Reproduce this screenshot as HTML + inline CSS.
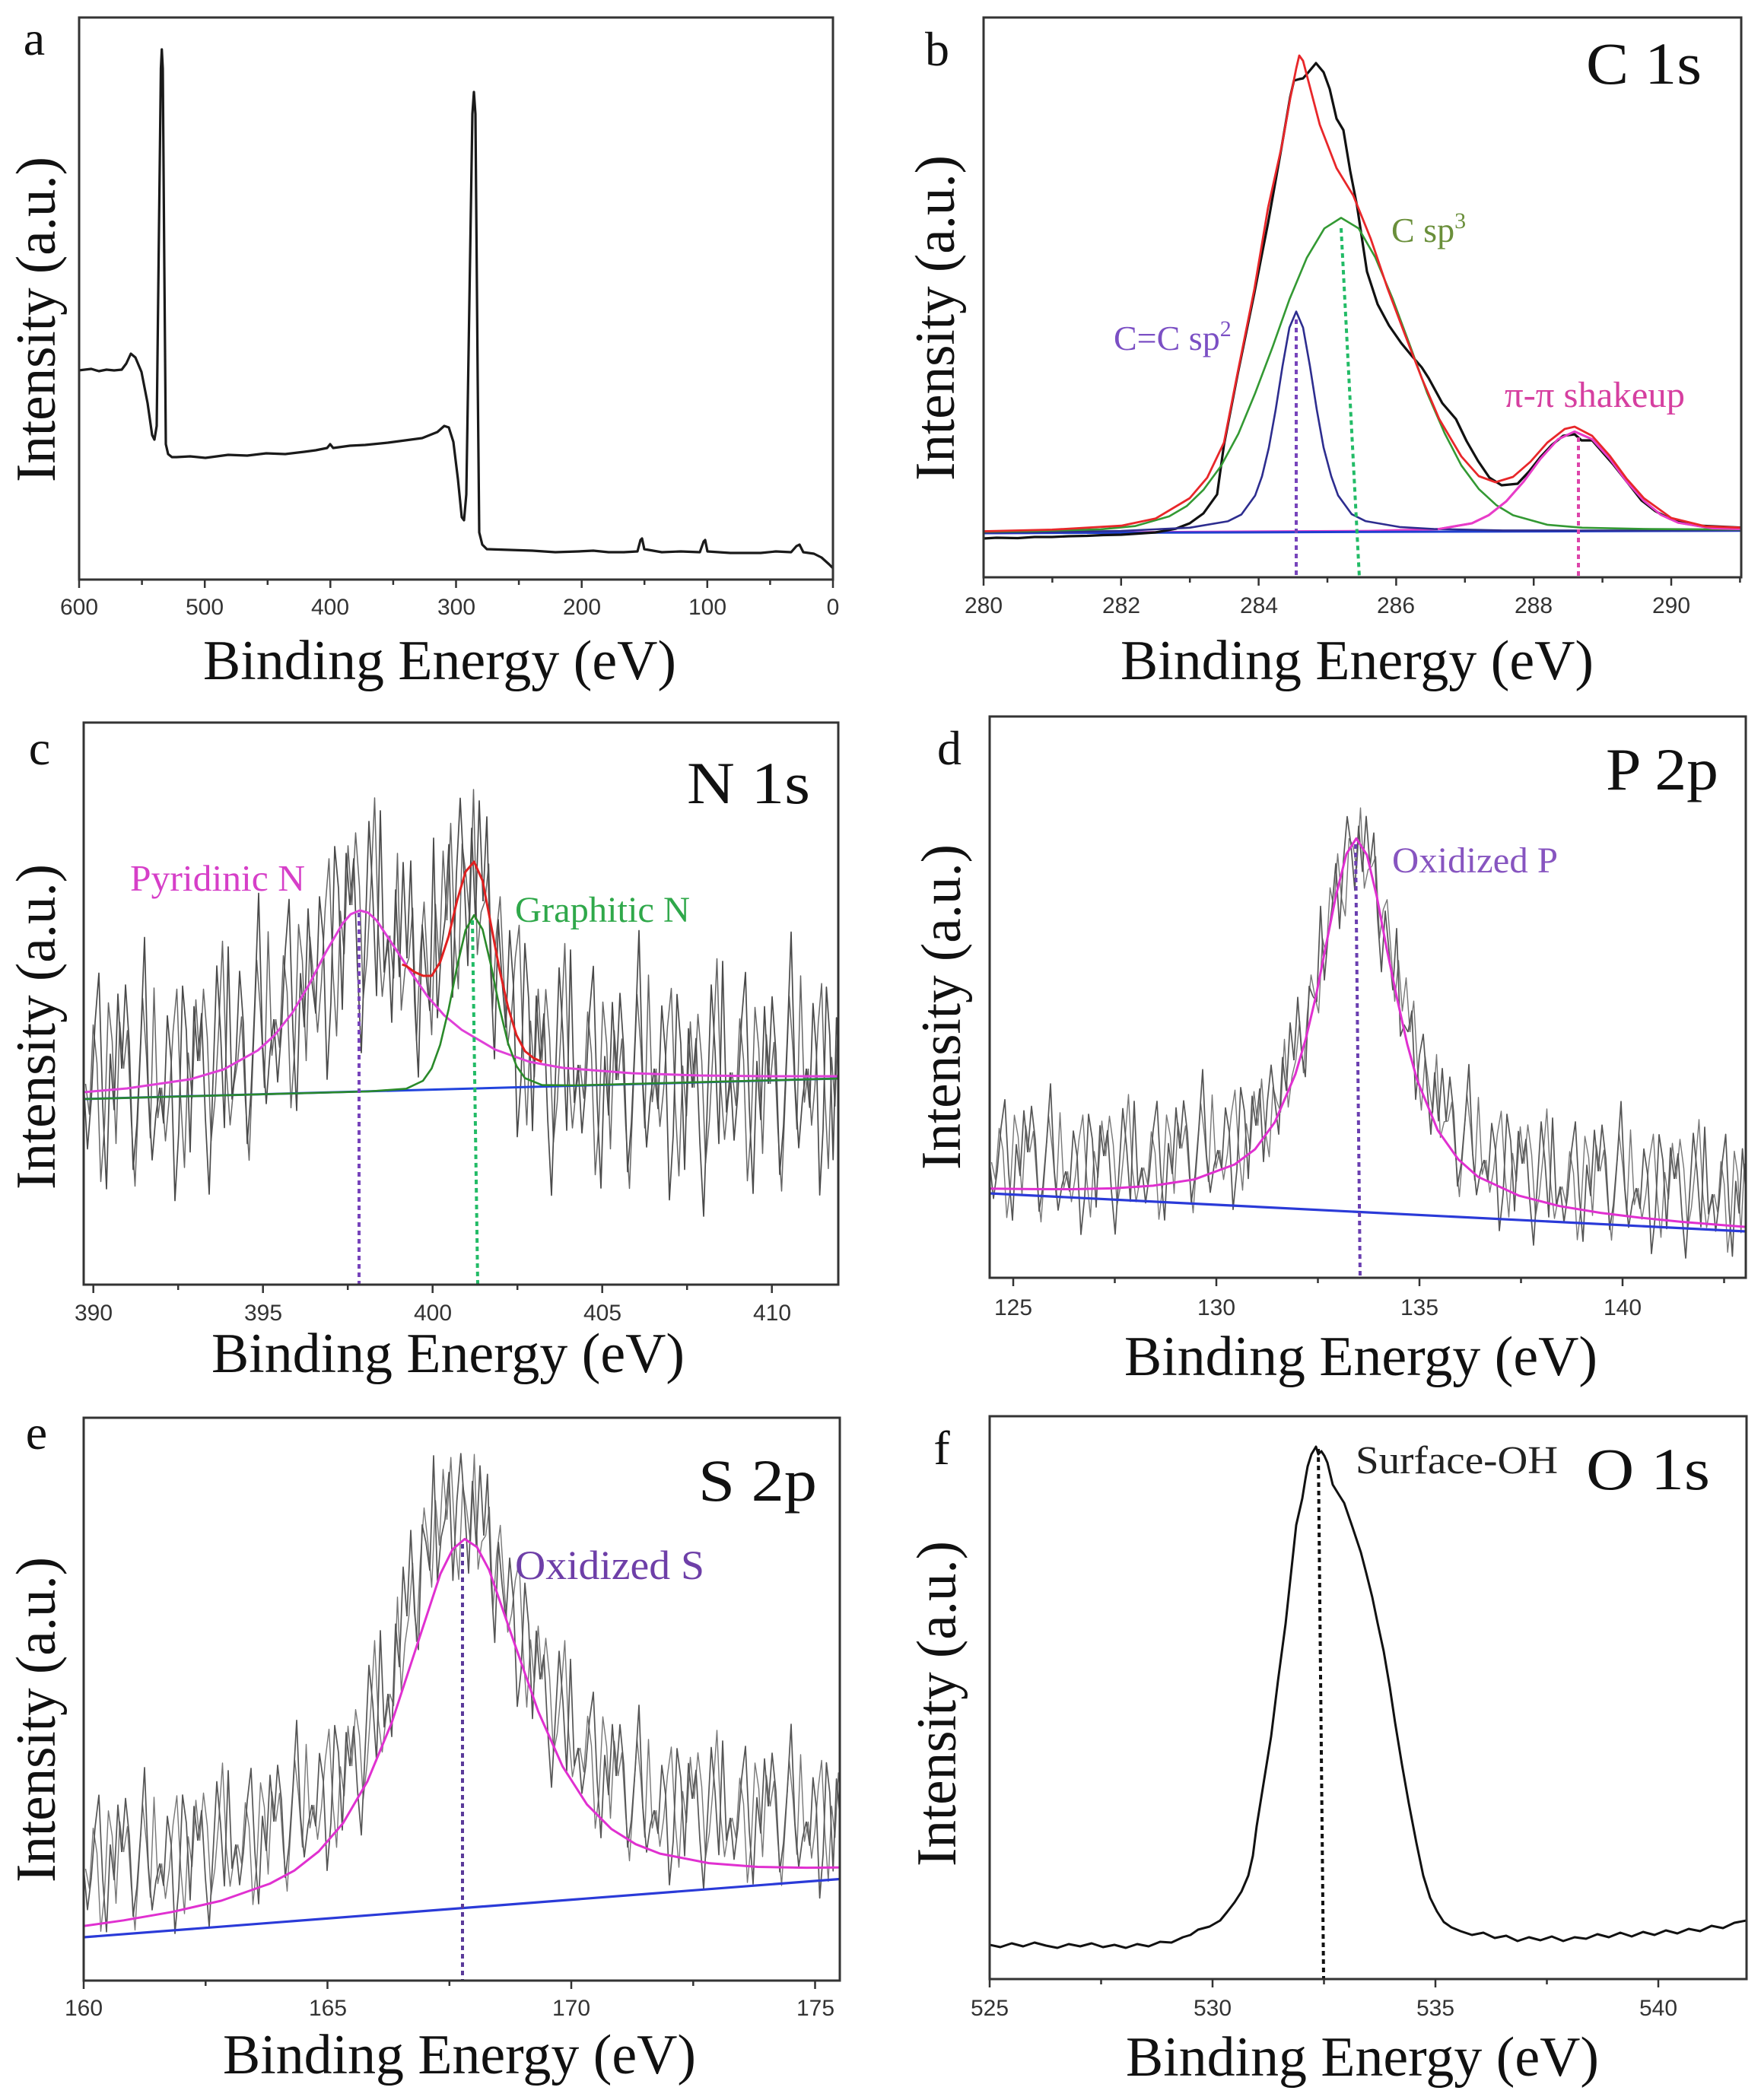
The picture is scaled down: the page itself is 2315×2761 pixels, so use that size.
<!DOCTYPE html>
<html><head><meta charset="utf-8">
<style>
html,body{margin:0;padding:0;background:#fff;}
svg{display:block;}
.t{font-family:"Liberation Sans",Arial,sans-serif;font-size:30px;fill:#333;text-anchor:middle;}
.s{font-family:"Liberation Serif","Times New Roman",serif;fill:#111;}
</style></head><body>
<svg width="2315" height="2761" viewBox="0 0 2315 2761" xmlns="http://www.w3.org/2000/svg">
<rect width="2315" height="2761" fill="#fff"/>
<defs>
<clipPath id="ca"><rect x="104" y="23" width="991" height="739"/></clipPath>
<clipPath id="cb"><rect x="1293" y="23" width="996" height="736"/></clipPath>
<clipPath id="cc"><rect x="110" y="950" width="992" height="739"/></clipPath>
<clipPath id="cd"><rect x="1301" y="942" width="994" height="738"/></clipPath>
<clipPath id="ce"><rect x="110" y="1864" width="994" height="740"/></clipPath>
<clipPath id="cf"><rect x="1301" y="1862" width="995" height="740"/></clipPath>
<path id="w1" vector-effect="non-scaling-stroke" d="M0 0L5 70L10 20L15 -60L20 -110L25 30L30 120L35 -20L40 40L45 -80L50 0"/>
<path id="w2" vector-effect="non-scaling-stroke" d="M0 0L5 -90L10 -30L15 100L20 50L25 -40L30 -150L35 10L40 80L45 30L50 0"/>
<path id="w3" vector-effect="non-scaling-stroke" d="M0 0L5 40L10 -70L15 -20L20 130L25 60L30 -90L35 -40L40 90L45 -60L50 0"/>
<path id="w4" vector-effect="non-scaling-stroke" d="M0 0L5 -50L10 60L15 140L20 20L25 -100L30 -30L35 70L40 -120L45 40L50 0"/>
<path id="s1" vector-effect="non-scaling-stroke" d="M0 0L10 90L20 -60L30 30L40 -100L50 0"/>
<path id="s2" vector-effect="non-scaling-stroke" d="M0 0L10 -110L20 40L30 120L40 -50L50 0"/>
<path id="s3" vector-effect="non-scaling-stroke" d="M0 0L10 50L20 -120L30 80L40 20L50 0"/>
<path id="s4" vector-effect="non-scaling-stroke" d="M0 0L10 -70L20 100L30 -20L40 -90L50 0"/>
</defs>

<!-- ===== panel a ===== -->
<g clip-path="url(#ca)" fill="none" stroke-linejoin="round">
<path stroke="#1a1a1a" stroke-width="3.2" d="M103 487L120 485L130 488L140 486L150 487L160 486L166 478L172 465L178 470L186 489L194 530L200 572L203 578L206 560L209 300L211.5 90L212.7 65L214 90L216 350L218 584L221 597L226 601L232 601L250 600L270 602L300 598L325 599L350 596L375 597L400 594L415 592L430 589L434 584L438 589L460 586L480 585L510 582L540 578L555 576L565 572L575 568L584 560L590 562L596 581L602 630L607 680L610 684L613 650L617 400L621 150L623 121L625 150L628 500L630 700L634 716L640 722L670 723L700 724L730 726L760 725L780 724L800 726L820 726L838 725L842 710L844 708L847 722L870 726L895 725L920 726L925 712L927 710L930 725L960 727L1000 727L1020 725L1040 726L1047 718L1051 716L1056 726L1070 728L1080 733L1090 742L1096 748"/>
</g>

<!-- ===== panel b ===== -->
<g clip-path="url(#cb)" fill="none" stroke-linejoin="round">
<path stroke="#e83cc8" stroke-width="3" d="M1293 700.9L1799 698.1L1890 695.8L1935 688L1957 677.4L1980 659.2L2003 633.1L2025 603.2L2048 577.7L2070 567.4L2093 577.5L2116 602.9L2138 632.7L2161 658.6L2183 676.6L2206 687.1L2251 694.6L2296 695.8"/>
<path stroke="#2040d0" stroke-width="3" d="M1293 701L2296 697.7"/>
<path stroke="#111" stroke-width="3.2" d="M1293 708L1310 707L1338 707.5L1360 706L1383 706L1405 705L1429 704.5L1450 703.5L1474 703L1497 701.5L1519 700L1546 695L1564 688L1582 675L1600 650L1609 585L1627 492L1649 385L1667 293L1685 192L1696 128L1701 106L1708 104L1713 103L1720 95L1730 83L1740 95L1748 117L1757 156L1766 171L1775 225L1784 271L1797 357L1811 400L1826 428L1842 451L1856 468L1869 483L1878 497L1896 530L1914 551L1928 580L1943 606L1958 628L1974 638L1995 636L2010 620L2025 601L2040 585L2055 573L2070 571L2079 579L2093 579L2107 595L2121 611L2140 635L2158 658L2176 672L2195 682L2231 691L2296 694"/>
<path stroke="#2d2d8f" stroke-width="2.6" d="M1293 700.5L1383 699.5L1474 698L1564 693.8L1614 685.4L1632 676.4L1650 651.5L1659 626.3L1668 588.7L1677 538.6L1686 481.3L1695 430.9L1704 409.6L1713 430.7L1722 481.1L1731 538.4L1740 588.5L1750 626.1L1759 651.3L1777 676.1L1795 685.1L1840 692.9L1885 695.5L1976 697.4L2107 697.5L2296 697.2"/>
<path stroke="#339933" stroke-width="2.6" d="M1293 699.1L1356 698.3L1447 695.9L1492 691.7L1537 678.9L1560 665.4L1582 644.1L1605 612.9L1628 570.3L1650 517L1673 456.1L1695 393.9L1718 338.8L1741 300.3L1763 286.4L1786 300.2L1808 338.5L1831 393.4L1854 455.5L1876 516.3L1899 569.4L1921 611.8L1944 642.9L1967 664.1L1989 677.4L2034 689.9L2080 693.8L2170 695.6L2296 696.2"/>
<path stroke="#e83cc8" stroke-width="2.8" d="M1890 695.8L1935 688L1957 677.4L1980 659.2L2003 633.1L2025 603.2L2048 577.7L2070 567.4L2093 577.5L2116 602.9L2138 632.7L2161 658.6L2183 676.6L2206 687.1L2251 694.6L2296 695.8"/>
<path stroke="#e8272a" stroke-width="2.8" d="M1293 698.5L1383 696.4L1474 691.2L1519 681.8L1564 655L1587 628L1609 582L1627 490L1649 380L1667 273L1685 192L1696 130L1704 90L1708 73L1713 80L1735 164L1757 221L1779 257L1802 314L1824 379L1847 440L1869 497L1892 551L1921 600L1944 626L1966 634L1989 627L2012 607L2034 582L2057 564L2070 561L2093 573L2116 599L2138 629L2161 655L2197 681L2242 692L2296 694"/>
<path stroke="#7744bb" stroke-width="4" stroke-dasharray="6 5" d="M1704 420L1704 759"/>
<path stroke="#22bb66" stroke-width="4" stroke-dasharray="6 5" d="M1763 300L1787 759"/>
<path stroke="#dd44aa" stroke-width="4" stroke-dasharray="6 5" d="M2075 575L2075 759"/>
</g>

<!-- ===== panel c ===== -->
<g clip-path="url(#cc)" fill="none" stroke-linejoin="round">
<g stroke="#666" stroke-width="1.5" transform="translate(2.5,0)">
<use href="#w3" transform="matrix(1 -0.4 0 1.05 110 1425)"/>
<use href="#w4" transform="matrix(1 0.5 0 1.05 160 1405)"/>
<use href="#w1" transform="matrix(1 -0.7 0 1.05 210 1430)"/>
<use href="#w2" transform="matrix(1 0 0 1.05 260 1395)"/>
<use href="#w4" transform="matrix(1 -1.1 0 1.05 310 1395)"/>
<use href="#w3" transform="matrix(1 -1.0 0 1.05 360 1340)"/>
<use href="#w1" transform="matrix(1 -2.0 0 1.1 410 1290)"/>
<use href="#w2" transform="matrix(1 0.8 0 1.1 460 1190)"/>
<use href="#s3" transform="matrix(0.5 0.6 0 1.0 510 1230)"/>
<use href="#s4" transform="matrix(0.5 0.4 0 1.0 535 1260)"/>
<use href="#s1" transform="matrix(0.5 -1.4 0 1.05 560 1280)"/>
<use href="#s2" transform="matrix(0.5 -1.2 0 1.05 585 1210)"/>
<use href="#s3" transform="matrix(0.5 0.7 0 1.05 610 1150)"/>
<use href="#s4" transform="matrix(0.5 2.1 0 1.0 635 1185)"/>
<use href="#w1" transform="matrix(1 2.1 0 1.05 660 1290)"/>
<use href="#w2" transform="matrix(1 0.1 0 1.05 710 1395)"/>
<use href="#w3" transform="matrix(1 0.4 0 1.05 760 1400)"/>
<use href="#w4" transform="matrix(1 -0.3 0 1.05 810 1420)"/>
<use href="#w1" transform="matrix(1 0.5 0 1.05 860 1405)"/>
<use href="#w2" transform="matrix(1 -0.4 0 1.05 910 1430)"/>
<use href="#w3" transform="matrix(1 0.3 0 1.05 960 1410)"/>
<use href="#w4" transform="matrix(1 -0.4 0 1.05 1010 1425)"/>
<use href="#w1" transform="matrix(0.88 0.18 0 1.05 1060 1405)"/>
</g>
<g stroke="#4a4a4a" stroke-width="1.7">
<use href="#w1" transform="matrix(1 -0.4 0 1.25 110 1425)"/>
<use href="#w2" transform="matrix(1 0.5 0 1.25 160 1405)"/>
<use href="#w3" transform="matrix(1 -0.7 0 1.25 210 1430)"/>
<use href="#w4" transform="matrix(1 0 0 1.25 260 1395)"/>
<use href="#w2" transform="matrix(1 -1.1 0 1.25 310 1395)"/>
<use href="#w1" transform="matrix(1 -1.0 0 1.25 360 1340)"/>
<use href="#w3" transform="matrix(1 -2.0 0 1.3 410 1290)"/>
<use href="#w4" transform="matrix(1 0.8 0 1.3 460 1190)"/>
<use href="#s1" transform="matrix(0.5 0.6 0 1.2 510 1230)"/>
<use href="#s2" transform="matrix(0.5 0.4 0 1.2 535 1260)"/>
<use href="#s3" transform="matrix(0.5 -1.4 0 1.25 560 1280)"/>
<use href="#s4" transform="matrix(0.5 -1.2 0 1.25 585 1210)"/>
<use href="#s1" transform="matrix(0.5 0.7 0 1.25 610 1150)"/>
<use href="#s2" transform="matrix(0.5 2.1 0 1.2 635 1185)"/>
<use href="#w3" transform="matrix(1 2.1 0 1.25 660 1290)"/>
<use href="#w4" transform="matrix(1 0.1 0 1.25 710 1395)"/>
<use href="#w1" transform="matrix(1 0.4 0 1.25 760 1400)"/>
<use href="#w2" transform="matrix(1 -0.3 0 1.25 810 1420)"/>
<use href="#w3" transform="matrix(1 0.5 0 1.25 860 1405)"/>
<use href="#w4" transform="matrix(1 -0.4 0 1.25 910 1430)"/>
<use href="#w1" transform="matrix(1 0.3 0 1.25 960 1410)"/>
<use href="#w2" transform="matrix(1 -0.4 0 1.25 1010 1425)"/>
<use href="#w3" transform="matrix(0.88 0.18 0 1.25 1060 1405)"/>
</g>
<path stroke="#2244dd" stroke-width="3" d="M110 1445L1104 1418"/>
<path stroke="#e040d8" stroke-width="3" d="M110 1436L167 1431L250 1419L294 1406L339 1381L361 1361L384 1332L406 1295L428 1252.5L450.5 1214L461 1202L473 1197L484 1200L495 1210L517 1243L540 1278L562 1310L584 1335L607 1354L651 1380L696 1396L740 1404L830 1411L919 1414L1008 1415L1104 1415"/>
<path stroke="#2a8a2a" stroke-width="2.6" d="M110 1445L484 1435L534 1431.4L556 1421L567.5 1404.6L578.6 1373.8L589.8 1326.8L600.9 1270.6L612.1 1222.6L623.2 1203.2L634.4 1222L645.5 1269.4L656.7 1325L667.8 1371.4L679 1401.6L690.1 1417.5L712.4 1426.6L757 1427L1104 1418"/>
<path stroke="#e02020" stroke-width="3" d="M528.6 1268L534 1270L545 1278L556.3 1283L567.5 1283L578.6 1265L589.8 1231L600.9 1184L612.1 1146L623.2 1133L634.4 1158L645.5 1216L656.7 1275L667.8 1324L679 1361L690.1 1382L701.3 1391L712.4 1396"/>
<path stroke="#7744bb" stroke-width="4" stroke-dasharray="6 5" d="M472 1200L472 1689"/>
<path stroke="#22bb66" stroke-width="4" stroke-dasharray="6 5" d="M621 1210L628 1689"/>
</g>

<!-- ===== panel d ===== -->
<g clip-path="url(#cd)" fill="none" stroke-linejoin="round">
<g stroke="#777" stroke-width="1.4" transform="translate(2.5,0)">
<use href="#w3" transform="matrix(1 -0.26 0 0.6 1301 1528)"/>
<use href="#w4" transform="matrix(1 0.5 0 0.6 1351 1515)"/>
<use href="#w1" transform="matrix(1 -0.4 0 0.6 1401 1540)"/>
<use href="#w2" transform="matrix(1 0.3 0 0.6 1451 1520)"/>
<use href="#w3" transform="matrix(1 -0.5 0 0.6 1501 1535)"/>
<use href="#w4" transform="matrix(1 0.04 0 0.6 1551 1510)"/>
<use href="#w1" transform="matrix(1 -0.64 0 0.6 1601 1512)"/>
<use href="#s2" transform="matrix(0.5 -0.64 0 0.5 1651 1480)"/>
<use href="#s3" transform="matrix(0.5 -1.08 0 0.5 1676 1448)"/>
<use href="#s4" transform="matrix(0.5 -1.68 0 0.5 1701 1394)"/>
<use href="#s1" transform="matrix(0.5 -2.32 0 0.5 1726 1310)"/>
<use href="#s2" transform="matrix(0.5 -1.66 0 0.5 1751 1194)"/>
<use href="#s3" transform="matrix(0.5 0.56 0 0.5 1776 1111)"/>
<use href="#s4" transform="matrix(0.5 2.22 0 0.5 1801 1139)"/>
<use href="#s1" transform="matrix(0.5 2.14 0 0.5 1826 1250)"/>
<use href="#s2" transform="matrix(0.5 1.42 0 0.5 1851 1357)"/>
<use href="#s3" transform="matrix(0.5 0.92 0 0.5 1876 1428)"/>
<use href="#w4" transform="matrix(1 1.02 0 0.6 1901 1474)"/>
<use href="#w1" transform="matrix(1 0.1 0 0.6 1951 1525)"/>
<use href="#w2" transform="matrix(1 0.6 0 0.6 2001 1530)"/>
<use href="#w3" transform="matrix(1 -0.4 0 0.6 2051 1560)"/>
<use href="#w4" transform="matrix(1 0.44 0 0.6 2101 1540)"/>
<use href="#w1" transform="matrix(1 -0.24 0 0.6 2151 1562)"/>
<use href="#w2" transform="matrix(1 0.4 0 0.6 2201 1550)"/>
<use href="#w3" transform="matrix(0.88 -0.08 0 0.6 2251 1570)"/>
</g>
<g stroke="#555" stroke-width="1.7">
<use href="#w1" transform="matrix(1 -0.26 0 0.7 1301 1528)"/>
<use href="#w2" transform="matrix(1 0.5 0 0.7 1351 1515)"/>
<use href="#w3" transform="matrix(1 -0.4 0 0.7 1401 1540)"/>
<use href="#w4" transform="matrix(1 0.3 0 0.7 1451 1520)"/>
<use href="#w1" transform="matrix(1 -0.5 0 0.7 1501 1535)"/>
<use href="#w2" transform="matrix(1 0.04 0 0.7 1551 1510)"/>
<use href="#w3" transform="matrix(1 -0.64 0 0.7 1601 1512)"/>
<use href="#s4" transform="matrix(0.5 -0.64 0 0.6 1651 1480)"/>
<use href="#s1" transform="matrix(0.5 -1.08 0 0.6 1676 1448)"/>
<use href="#s2" transform="matrix(0.5 -1.68 0 0.6 1701 1394)"/>
<use href="#s3" transform="matrix(0.5 -2.32 0 0.6 1726 1310)"/>
<use href="#s4" transform="matrix(0.5 -1.66 0 0.6 1751 1194)"/>
<use href="#s1" transform="matrix(0.5 0.56 0 0.6 1776 1111)"/>
<use href="#s2" transform="matrix(0.5 2.22 0 0.6 1801 1139)"/>
<use href="#s3" transform="matrix(0.5 2.14 0 0.6 1826 1250)"/>
<use href="#s4" transform="matrix(0.5 1.42 0 0.6 1851 1357)"/>
<use href="#s1" transform="matrix(0.5 0.92 0 0.6 1876 1428)"/>
<use href="#w2" transform="matrix(1 1.02 0 0.7 1901 1474)"/>
<use href="#w3" transform="matrix(1 0.1 0 0.7 1951 1525)"/>
<use href="#w4" transform="matrix(1 0.6 0 0.7 2001 1530)"/>
<use href="#w1" transform="matrix(1 -0.4 0 0.7 2051 1560)"/>
<use href="#w2" transform="matrix(1 0.44 0 0.7 2101 1540)"/>
<use href="#w3" transform="matrix(1 -0.24 0 0.7 2151 1562)"/>
<use href="#w4" transform="matrix(1 0.4 0 0.7 2201 1550)"/>
<use href="#w1" transform="matrix(0.88 -0.08 0 0.7 2251 1570)"/>
</g>
<path stroke="#2a3ad8" stroke-width="3.2" d="M1301 1569L2295 1619"/>
<path stroke="#e030d0" stroke-width="3" d="M1301 1562.7L1356 1563.4L1409 1563.5L1463 1562.4L1516 1558.9L1570 1550.7L1623 1531L1650 1510.9L1676 1475.2L1703 1412.1L1716.5 1366.1L1730 1309.3L1743 1243.6L1756.5 1176.4L1770 1122.8L1783 1102.3L1797 1124.2L1810 1179L1823 1247.6L1837 1314.7L1850 1372.9L1863 1420.1L1890 1486L1917 1524.3L1943 1547.2L1997 1572.1L2050 1585.7L2104 1594.6L2157 1601.1L2210 1606.4L2296 1613.2"/>
<path stroke="#6a3fb0" stroke-width="4" stroke-dasharray="6 5" d="M1782 1110L1788 1680"/>
</g>

<!-- ===== panel e ===== -->
<g clip-path="url(#ce)" fill="none" stroke-linejoin="round">
<g stroke="#777" stroke-width="1.4" transform="translate(2.5,0)">
<use href="#w3" transform="matrix(1 -0.44 0 0.7 110 2457)"/>
<use href="#w4" transform="matrix(1 0.3 0 0.7 160 2435)"/>
<use href="#w1" transform="matrix(1 -0.6 0 0.7 210 2450)"/>
<use href="#w2" transform="matrix(1 0.1 0 0.7 260 2420)"/>
<use href="#w3" transform="matrix(1 -0.6 0 0.7 310 2425)"/>
<use href="#w4" transform="matrix(1 -0.44 0 0.7 360 2395)"/>
<use href="#w1" transform="matrix(1 -1.02 0 0.72 410 2373)"/>
<use href="#w2" transform="matrix(1 -1.9 0 0.72 460 2322)"/>
<use href="#s3" transform="matrix(0.5 -2.04 0 0.72 510 2227)"/>
<use href="#s4" transform="matrix(0.5 -1.94 0 0.72 535 2125)"/>
<use href="#s1" transform="matrix(0.5 -0.6 0 0.72 560 2028)"/>
<use href="#s2" transform="matrix(0.52 -0.26 0 0.72 585 1998)"/>
<use href="#s3" transform="matrix(0.5 0.68 0 0.72 611 1985)"/>
<use href="#s4" transform="matrix(0.48 1.28 0 0.72 636 2019)"/>
<use href="#w1" transform="matrix(1 2.5 0 0.72 660 2083)"/>
<use href="#w2" transform="matrix(1 1.8 0 0.7 710 2208)"/>
<use href="#w3" transform="matrix(1 0.74 0 0.7 760 2298)"/>
<use href="#w4" transform="matrix(1 0.9 0 0.7 810 2335)"/>
<use href="#w1" transform="matrix(1 -0.3 0 0.7 860 2380)"/>
<use href="#w2" transform="matrix(1 0.5 0 0.7 910 2365)"/>
<use href="#w3" transform="matrix(1 -0.3 0 0.7 960 2390)"/>
<use href="#w4" transform="matrix(1 0.4 0 0.7 1010 2375)"/>
<use href="#w1" transform="matrix(0.88 -0.18 0 0.7 1060 2395)"/>
</g>
<g stroke="#555" stroke-width="1.7">
<use href="#w1" transform="matrix(1 -0.44 0 0.8 110 2457)"/>
<use href="#w2" transform="matrix(1 0.3 0 0.8 160 2435)"/>
<use href="#w3" transform="matrix(1 -0.6 0 0.8 210 2450)"/>
<use href="#w4" transform="matrix(1 0.1 0 0.8 260 2420)"/>
<use href="#w1" transform="matrix(1 -0.6 0 0.8 310 2425)"/>
<use href="#w2" transform="matrix(1 -0.44 0 0.8 360 2395)"/>
<use href="#w3" transform="matrix(1 -1.02 0 0.82 410 2373)"/>
<use href="#w4" transform="matrix(1 -1.9 0 0.85 460 2322)"/>
<use href="#s1" transform="matrix(0.5 -2.04 0 0.85 510 2227)"/>
<use href="#s2" transform="matrix(0.5 -1.94 0 0.85 535 2125)"/>
<use href="#s3" transform="matrix(0.5 -0.6 0 0.85 560 2028)"/>
<use href="#s4" transform="matrix(0.52 -0.26 0 0.85 585 1998)"/>
<use href="#s1" transform="matrix(0.5 0.68 0 0.85 611 1985)"/>
<use href="#s2" transform="matrix(0.48 1.28 0 0.85 636 2019)"/>
<use href="#w3" transform="matrix(1 2.5 0 0.85 660 2083)"/>
<use href="#w4" transform="matrix(1 1.8 0 0.82 710 2208)"/>
<use href="#w1" transform="matrix(1 0.74 0 0.8 760 2298)"/>
<use href="#w2" transform="matrix(1 0.9 0 0.8 810 2335)"/>
<use href="#w3" transform="matrix(1 -0.3 0 0.8 860 2380)"/>
<use href="#w4" transform="matrix(1 0.5 0 0.8 910 2365)"/>
<use href="#w1" transform="matrix(1 -0.3 0 0.8 960 2390)"/>
<use href="#w2" transform="matrix(1 0.4 0 0.8 1010 2375)"/>
<use href="#w3" transform="matrix(0.88 -0.18 0 0.8 1060 2395)"/>
</g>
<path stroke="#2a3ad8" stroke-width="3.2" d="M110 2547L1104 2470.5"/>
<path stroke="#e030d0" stroke-width="3" d="M110 2532.3L162.6 2524.8L226.7 2513.7L290.8 2499L354.9 2476.5L387 2459.3L419 2434.2L451 2397L483 2342.1L515 2264.8L547 2166.7L579 2069.2L595 2037L611 2023.4L627 2034L643 2064.2L675 2156.9L707.5 2250L739.5 2322.3L771.6 2372.4L803.6 2404.6L835.7 2424.7L867.7 2437.1L931.8 2449.6L996 2454.5L1060 2455.6L1105 2455.3"/>
<path stroke="#5a3a9a" stroke-width="4" stroke-dasharray="6 5" d="M608 2030L608 2604"/>
</g>

<!-- ===== panel f ===== -->
<g clip-path="url(#cf)" fill="none" stroke-linejoin="round">
<path stroke="#111" stroke-width="3" d="M1301 2557L1315 2560L1330 2555L1345 2559L1360 2554L1375 2558L1390 2561L1405 2556L1420 2559L1435 2555L1450 2560L1465 2557L1480 2561L1495 2556L1510 2559L1525 2553L1540 2554L1555 2547L1565 2544L1575 2537L1590 2533L1604 2525L1613 2514L1623 2501L1632 2487L1641 2466L1647 2440L1652 2401L1661 2345L1671 2283L1680 2210L1690 2135L1697 2070L1704 2005L1712 1970L1716 1945L1719 1928L1724 1912L1730 1902L1733 1912L1737 1908L1741 1914L1745 1923L1752 1952L1760 1965L1767 1976L1778 2008L1789 2041L1796 2068L1804 2100L1811 2134L1819 2171L1827 2218L1834 2265L1843 2320L1852 2371L1862 2423L1871 2466L1880 2495L1889 2513L1898 2527L1908 2534L1920 2539L1935 2544L1950 2541L1965 2548L1980 2545L1995 2552L2010 2547L2025 2551L2040 2546L2055 2552L2070 2547L2085 2549L2100 2543L2115 2547L2130 2541L2145 2546L2160 2540L2175 2544L2190 2538L2205 2542L2220 2536L2235 2539L2250 2532L2265 2535L2280 2528L2296 2525"/>
<path stroke="#111" stroke-width="4" stroke-dasharray="6 5" d="M1733 1905L1740 2602"/>
</g>

<!-- ticks -->
<g fill="none" stroke="#333" stroke-width="2.5">
<path d="M104 762V773M269.2 762V773M434.3 762V773M599.5 762V773M764.7 762V773M929.8 762V773M1095 762V773M186.6 762V769M351.8 762V769M516.9 762V769M682.1 762V769M847.2 762V769M1012.4 762V769"/>
<path d="M1293 759V770M1473.8 759V770M1654.6 759V770M1835.4 759V770M2016.2 759V770M2197 759V770M1383.4 759V766M1564.2 759V766M1745 759V766M1925.8 759V766M2106.6 759V766M2287.4 759V766"/>
<path d="M122.7 1689V1700M345.7 1689V1700M568.7 1689V1700M791.7 1689V1700M1014.7 1689V1700M234.2 1689V1696M457.2 1689V1696M680.2 1689V1696M903.2 1689V1696"/>
<path d="M1332 1680V1691M1599 1680V1691M1866 1680V1691M2133 1680V1691M1465.5 1680V1687M1732.5 1680V1687M1999.5 1680V1687M2266.5 1680V1687"/>
<path d="M110 2604V2615M430.5 2604V2615M751 2604V2615M1071.5 2604V2615M270.3 2604V2611M590.8 2604V2611M911.3 2604V2611"/>
<path d="M1301 2602V2613M1594 2602V2613M1887 2602V2613M2180 2602V2613M1447.5 2602V2609M1740.5 2602V2609M2033.5 2602V2609"/>
</g>

<g fill="none" stroke="#333" stroke-width="3">
<rect x="104" y="23" width="991" height="739"/>
<rect x="1293" y="23" width="996" height="736"/>
<rect x="110" y="950" width="992" height="739"/>
<rect x="1301" y="942" width="994" height="738"/>
<rect x="110" y="1864" width="994" height="740"/>
<rect x="1301" y="1862" width="995" height="740"/>
</g>

<!-- tick labels -->
<g class="t">
<text x="104" y="808">600</text><text x="269" y="808">500</text><text x="434" y="808">400</text><text x="600" y="808">300</text><text x="765" y="808">200</text><text x="930" y="808">100</text><text x="1095" y="808">0</text>
<text x="1293" y="806">280</text><text x="1474" y="806">282</text><text x="1655" y="806">284</text><text x="1835" y="806">286</text><text x="2016" y="806">288</text><text x="2197" y="806">290</text>
<text x="123" y="1736">390</text><text x="346" y="1736">395</text><text x="569" y="1736">400</text><text x="792" y="1736">405</text><text x="1015" y="1736">410</text>
<text x="1332" y="1729">125</text><text x="1599" y="1729">130</text><text x="1866" y="1729">135</text><text x="2133" y="1729">140</text>
<text x="110" y="2650">160</text><text x="431" y="2650">165</text><text x="751" y="2650">170</text><text x="1072" y="2650">175</text>
<text x="1301" y="2650">525</text><text x="1594" y="2650">530</text><text x="1887" y="2650">535</text><text x="2180" y="2650">540</text>
</g>
<!-- axis titles -->
<g class="s" font-size="74" text-anchor="middle">
<text x="578" y="893" textLength="622" lengthAdjust="spacingAndGlyphs">Binding Energy (eV)</text>
<text x="1784" y="893" textLength="622" lengthAdjust="spacingAndGlyphs">Binding Energy (eV)</text>
<text x="589" y="1804" textLength="622" lengthAdjust="spacingAndGlyphs">Binding Energy (eV)</text>
<text x="1789" y="1808" textLength="622" lengthAdjust="spacingAndGlyphs">Binding Energy (eV)</text>
<text x="604" y="2726" textLength="622" lengthAdjust="spacingAndGlyphs">Binding Energy (eV)</text>
<text x="1791" y="2729" textLength="622" lengthAdjust="spacingAndGlyphs">Binding Energy (eV)</text>
<text transform="translate(72,420) rotate(-90)" textLength="428" lengthAdjust="spacingAndGlyphs">Intensity (a.u.)</text>
<text transform="translate(1254,418) rotate(-90)" textLength="428" lengthAdjust="spacingAndGlyphs">Intensity (a.u.)</text>
<text transform="translate(72,1350) rotate(-90)" textLength="428" lengthAdjust="spacingAndGlyphs">Intensity (a.u.)</text>
<text transform="translate(1262,1324) rotate(-90)" textLength="428" lengthAdjust="spacingAndGlyphs">Intensity (a.u.)</text>
<text transform="translate(72,2261) rotate(-90)" textLength="428" lengthAdjust="spacingAndGlyphs">Intensity (a.u.)</text>
<text transform="translate(1256,2240) rotate(-90)" textLength="428" lengthAdjust="spacingAndGlyphs">Intensity (a.u.)</text>
</g>
<!-- panel letters -->
<g class="s" font-size="64" text-anchor="middle">
<text x="45" y="72">a</text>
<text x="1232" y="86">b</text>
<text x="52" y="1005">c</text>
<text x="1248" y="1005">d</text>
<text x="48" y="1905">e</text>
<text x="1238" y="1925">f</text>
</g>
<!-- inset titles -->
<g class="s" font-size="78">
<text x="2085" y="110" textLength="152" lengthAdjust="spacingAndGlyphs">C 1s</text>
<text x="903" y="1056" textLength="162" lengthAdjust="spacingAndGlyphs">N 1s</text>
<text x="2111" y="1038" textLength="148" lengthAdjust="spacingAndGlyphs">P 2p</text>
<text x="918" y="1973" textLength="156" lengthAdjust="spacingAndGlyphs">S 2p</text>
<text x="2085" y="1958" textLength="163" lengthAdjust="spacingAndGlyphs">O 1s</text>
</g>
<!-- annotations -->
<g class="s">
<text x="1464" y="460" font-size="46" style="fill:#7b4fc4">C=C sp<tspan dy="-18" font-size="30">2</tspan></text>
<text x="1829" y="318" font-size="46" style="fill:#6a8f3a">C sp<tspan dy="-18" font-size="30">3</tspan></text>
<text x="1978" y="535" font-size="48" style="fill:#d63fa0" textLength="237" lengthAdjust="spacingAndGlyphs">π-π shakeup</text>
<text x="171" y="1171" font-size="49" style="fill:#d63fc8" textLength="230" lengthAdjust="spacingAndGlyphs">Pyridinic N</text>
<text x="677" y="1212" font-size="48" style="fill:#2fa84a" textLength="230" lengthAdjust="spacingAndGlyphs">Graphitic N</text>
<text x="1830" y="1147" font-size="48" style="fill:#8755c0" textLength="218" lengthAdjust="spacingAndGlyphs">Oxidized P</text>
<text x="677" y="2076" font-size="54" style="fill:#6e3fa8" textLength="249" lengthAdjust="spacingAndGlyphs">Oxidized S</text>
<text x="1782" y="1937" font-size="52" style="fill:#222" textLength="266" lengthAdjust="spacingAndGlyphs">Surface-OH</text>
</g>
</svg>
</body></html>
